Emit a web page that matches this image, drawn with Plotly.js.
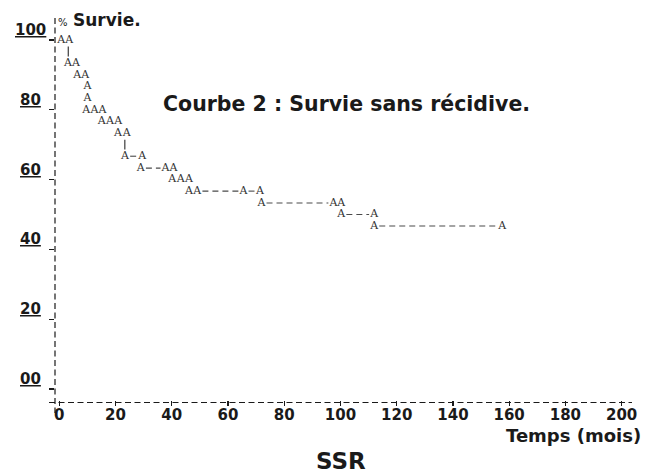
<!DOCTYPE html>
<html>
<head>
<meta charset="utf-8">
<script src="https://cdn.plot.ly/plotly-3.0.1.min.js"></script>
<style>html,body{margin:0;padding:0;background:#fff;}#chart{width:654px;height:474px;}</style>
</head>
<body>
<div id="chart"></div>
<script>
// Kaplan-Meier style line-printer plot: each "A" is one plotted point
const times = [0.7, 3.5, 3.1, 5.9, 6.4, 9.2, 10.0, 10.0, 9.6, 12.5, 15.4, 15.1, 18.0, 21.0, 20.9, 24.0,
               23.4, 29.5, 29.0, 37.8, 40.6, 40.2, 43.2, 46.1, 46.1, 49.1, 65.5, 71.4, 71.9, 97.5, 100.3,
               100.3, 112.0, 112.0, 157.5];
const survival = [100, 100, 93.3, 93.3, 90, 90, 86.7, 83.3, 80, 80, 80, 76.7, 76.7, 76.7, 73.3, 73.3,
                  66.7, 66.7, 63.3, 63.3, 63.3, 60, 60, 60, 56.7, 56.7, 56.7, 56.7, 53.3, 53.3, 53.3,
                  50, 50, 46.7, 46.7];
const connectorTimes = [3.2, 23.3];
const connectorSurvival = [96.7, 70];
const xTickVals = [0, 20, 40, 60, 80, 100, 120, 140, 160, 180, 200];
const yTickVals = [0, 20, 40, 60, 80, 100];
const yTickText = ['00', '20', '40', '60', '80', '100'];
const pointLabel = 'A';
const chartTitle = 'Courbe 2 : Survie sans récidive.';
const yTitle = 'Survie.';
const xTitle = 'Temps (mois)';
const caption = 'SSR';

// plot-area geometry (pixels)
const L = 55, T = 20, W = 577, H = 380;
const px = x => (x - L) / W;
const py = y => (T + H - y) / H;

// dashed connectors between distant points on the same level
const dashX = [], dashY = [];
const pad = 1.8;
for (let i = 0; i < times.length - 1; i++) {
  if (survival[i] === survival[i + 1] && times[i + 1] - times[i] > 4) {
    dashX.push(times[i] + pad, times[i + 1] - pad, null);
    dashY.push(survival[i], survival[i + 1], null);
  }
}

const ink = '#1a1a1a';
const grey = '#4a4a4a';
const bold = {family: 'DejaVu Sans', weight: 'bold', color: ink};

const traces = [
  {x: dashX, y: dashY, mode: 'lines', line: {color: grey, width: 1.1, dash: '6px,4px'},
   hoverinfo: 'skip', showlegend: false},
  {x: connectorTimes, y: connectorSurvival, mode: 'markers',
   marker: {symbol: 'line-ns-open', size: 7, color: grey, line: {color: grey, width: 1.3}},
   hoverinfo: 'skip', showlegend: false},
  {x: times, y: survival, mode: 'text', text: times.map(() => pointLabel),
   textposition: 'middle center',
   textfont: {family: 'DejaVu Serif', size: 11, color: '#333'},
   showlegend: false}
];

const annotations = [
  {xref: 'paper', yref: 'paper', x: px(346), y: py(104), text: chartTitle, showarrow: false,
   xanchor: 'center', yanchor: 'middle', font: Object.assign({size: 20.5}, bold)},
  {xref: 'paper', yref: 'paper', x: px(71), y: py(20), text: yTitle, showarrow: false,
   xanchor: 'left', yanchor: 'middle', font: Object.assign({size: 17}, bold)},
  {xref: 'paper', yref: 'paper', x: px(56), y: py(22), text: '%', showarrow: false,
   xanchor: 'left', yanchor: 'middle', font: {family: 'DejaVu Sans', size: 10, color: ink}},
  {xref: 'paper', yref: 'paper', x: px(643), y: py(435), text: xTitle, showarrow: false,
   xanchor: 'right', yanchor: 'middle', font: Object.assign({size: 18}, bold)},
  {xref: 'paper', yref: 'paper', x: px(341), y: py(461), text: caption, showarrow: false,
   xanchor: 'center', yanchor: 'middle', font: Object.assign({size: 23}, bold)}
];
yTickVals.forEach((v, i) => {
  annotations.push({xref: 'paper', yref: 'y', x: px(30), y: v, yshift: 10, text: yTickText[i],
    showarrow: false, xanchor: 'center', yanchor: 'middle',
    font: Object.assign({size: 15, lineposition: 'under'}, bold)});
});

const layout = {
  width: 654, height: 474,
  margin: {l: L, r: 654 - L - W, t: T, b: 474 - T - H, pad: 0},
  paper_bgcolor: '#fff', plot_bgcolor: '#fff',
  showlegend: false,
  xaxis: {range: [-1.53, 203.7], tickvals: xTickVals, ticks: 'outside', ticklen: 5, tickwidth: 1.2,
          tickcolor: ink, showgrid: false, zeroline: false, showline: false, ticklabelstandoff: -4,
          tickfont: Object.assign({size: 15}, bold), fixedrange: true},
  yaxis: {range: [-3.15, 105.73], tickvals: yTickVals, ticks: 'outside', ticklen: 5, tickwidth: 1.2,
          tickcolor: ink, showticklabels: false, showgrid: false, zeroline: false, showline: false,
          fixedrange: true},
  shapes: [
    {type: 'line', xref: 'paper', yref: 'paper', x0: px(49), x1: px(632), y0: py(402.5), y1: py(402.5),
     line: {color: ink, width: 1.2, dash: '6px,3.5px'}},
    {type: 'line', xref: 'paper', yref: 'paper', x0: 0, x1: 0, y0: py(18), y1: py(413),
     line: {color: ink, width: 1.2, dash: '6px,3.5px'}}
  ],
  annotations: annotations
};

Plotly.newPlot('chart', traces, layout, {displayModeBar: false, staticPlot: true});
</script>
</body>
</html>
